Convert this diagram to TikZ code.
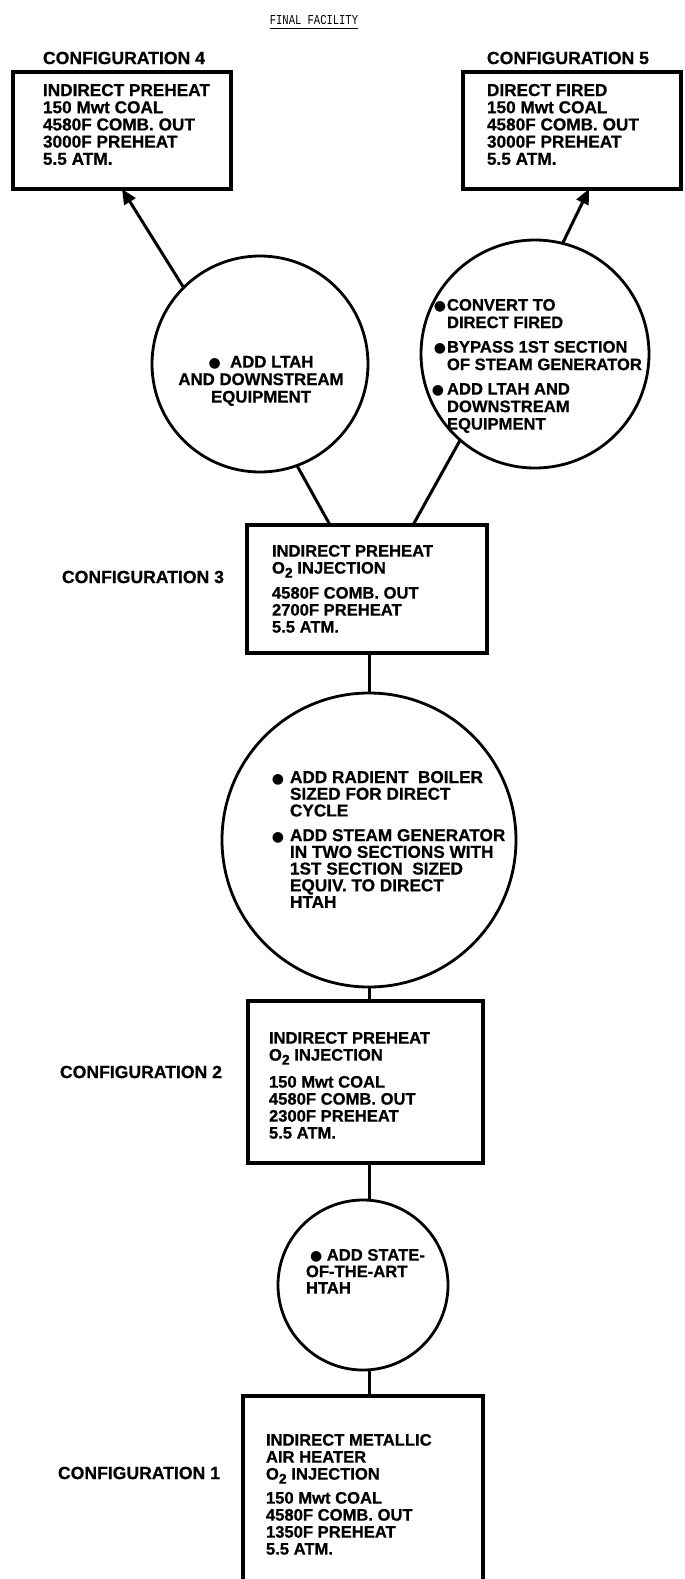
\documentclass[tikz,border=0pt]{standalone}
\usepackage{fontspec}
\setmainfont{Liberation Sans}[BoldFeatures={FakeBold=0.7}]
\newfontfamily\symfont{DejaVu Sans}
\newfontfamily\ttlfont{Liberation Mono}
\usetikzlibrary{arrows.meta,calc}

% list bullet and subscripted oxygen
\newcommand{\bul}{{\symfont\fontsize{14}{14}\selectfont ●}}
\newcommand{\Otwo}{O\raisebox{-4pt}{\fontsize{14}{14}\selectfont 2}}

\begin{document}
\begin{tikzpicture}[x=1pt,y=-1pt,
  every node/.style={inner sep=0pt, outer sep=0pt},
  txt/.style={font=\fontsize{16.6}{17}\selectfont\bfseries, align=left, anchor=north west},
  toptxt/.style={font=\fontsize{17.2}{17.2}\selectfont\bfseries, align=left, anchor=north west},
  cfg/.style={font=\fontsize{17.6}{17.6}\selectfont\bfseries, anchor=west},
  box/.style={draw, line width=3.4pt, rectangle},
  bubble/.style={draw, line width=2.8pt, circle},
  link/.style={line width=3pt},
  arr/.style={line width=3pt, -{Triangle[length=15pt,width=13pt]}},
]
\useasboundingbox (0,0) rectangle (685,1579);

% title
\node[font=\ttlfont\fontsize{10.5}{10.5}\selectfont] (title) at (314,20) {\scalebox{1}[1.3]{FINAL FACILITY}};
\draw[line width=0.9pt] ($(title.south west)+(0,4)$) -- ($(title.south east)+(0,4)$);

% configuration boxes
\node[box, minimum width=218pt, minimum height=117pt] (b4) at (122,130.5) {};
\node[box, minimum width=218pt, minimum height=117pt] (b5) at (572,130.5) {};
\node[box, minimum width=240pt, minimum height=128pt] (b3) at (367,589) {};
\node[box, minimum width=235pt, minimum height=162pt] (b2) at (365.5,1082) {};
\node[box, minimum width=240pt, minimum height=204pt] (b1) at (363,1498) {};

% step circles
\node[bubble, minimum size=216pt] (lc) at (260,364) {};
\node[bubble, minimum size=228pt] (rc) at (535,354) {};
\node[bubble, minimum size=294pt] (bc) at (369,840) {};
\node[bubble, minimum size=170pt] (sc) at (363,1285) {};

% configuration labels
\node[cfg] (l4) at (43,58) {CONFIGURATION 4};
\node[cfg] (l5) at (487,58) {CONFIGURATION 5};
\node[cfg] (l3) at (62,577) {CONFIGURATION 3};
\node[cfg] (l2) at (60,1072) {CONFIGURATION 2};
\node[cfg] (l1) at (58,1473) {CONFIGURATION 1};

% box contents
\node[toptxt] (t4) at (43,84) {INDIRECT PREHEAT\\150 Mwt COAL\\4580F COMB. OUT\\3000F PREHEAT\\5.5 ATM.};
\node[toptxt] (t5) at (487,84) {DIRECT FIRED\\150 Mwt COAL\\4580F COMB. OUT\\3000F PREHEAT\\5.5 ATM.};
\node[txt] (t3) at (272,545) {INDIRECT PREHEAT\\\Otwo{} INJECTION\\[8pt]4580F COMB. OUT\\2700F PREHEAT\\5.5 ATM.};
\node[txt] (t2) at (269,1032) {INDIRECT PREHEAT\\\Otwo{} INJECTION\\[10pt]150 Mwt COAL\\4580F COMB. OUT\\2300F PREHEAT\\5.5 ATM.};
\node[txt] (t1) at (266,1434) {INDIRECT METALLIC\\AIR HEATER\\\Otwo{} INJECTION\\[7pt]150 Mwt COAL\\4580F COMB. OUT\\1350F PREHEAT\\5.5 ATM.};

% circle contents
\node[font=\fontsize{16.8}{17.5}\selectfont\bfseries, align=center, anchor=north] (tl) at (261,356)
  {\bul\ \ ADD LTAH\\AND DOWNSTREAM\\EQUIPMENT};
\node[font=\fontsize{16.6}{17.5}\selectfont\bfseries, align=left, anchor=north west] (tr) at (447,299)
  {\llap{\bul\hspace{1pt}}CONVERT TO\\DIRECT FIRED\\[7pt]\llap{\bul\hspace{1pt}}BYPASS 1ST SECTION\\OF STEAM GENERATOR\\[7pt]\llap{\bul\hspace{3pt}}ADD LTAH AND\\DOWNSTREAM\\EQUIPMENT};
\node[font=\fontsize{17.2}{16.7}\selectfont\bfseries, align=left, anchor=north west] (tb) at (290,771)
  {\llap{\bul\hspace{6pt}}ADD RADIENT\ \ BOILER\\SIZED FOR DIRECT\\CYCLE\\[8pt]\llap{\bul\hspace{6pt}}ADD STEAM GENERATOR\\IN TWO SECTIONS WITH\\1ST SECTION\ \ SIZED\\EQUIV. TO DIRECT\\HTAH};
\node[font=\fontsize{16.6}{16.5}\selectfont\bfseries, align=left, anchor=north west] (ts) at (306,1249)
  {\hspace{4pt}\bul\ ADD STATE-\\OF-THE-ART\\HTAH};

% connectors
\coordinate (axis) at (369,0);
\draw[arr] (lc.135) -- (b4.south);
\draw[arr] (rc.76) -- ($(b5.south)+(17,0)$);
\draw[link] ($(b3.north)+(-37,0)$) -- (lc.290);
\draw[link] ($(b3.north)+(46,0)$) -- (rc.229);
\draw[link] (b3.south -| axis) -- (bc.north -| axis);
\draw[link] (bc.south -| axis) -- (b2.north -| axis);
\draw[link] (b2.south -| axis) -- (sc.north -| axis);
\draw[link] (sc.south -| axis) -- (b1.north -| axis);
\end{tikzpicture}
\end{document}
